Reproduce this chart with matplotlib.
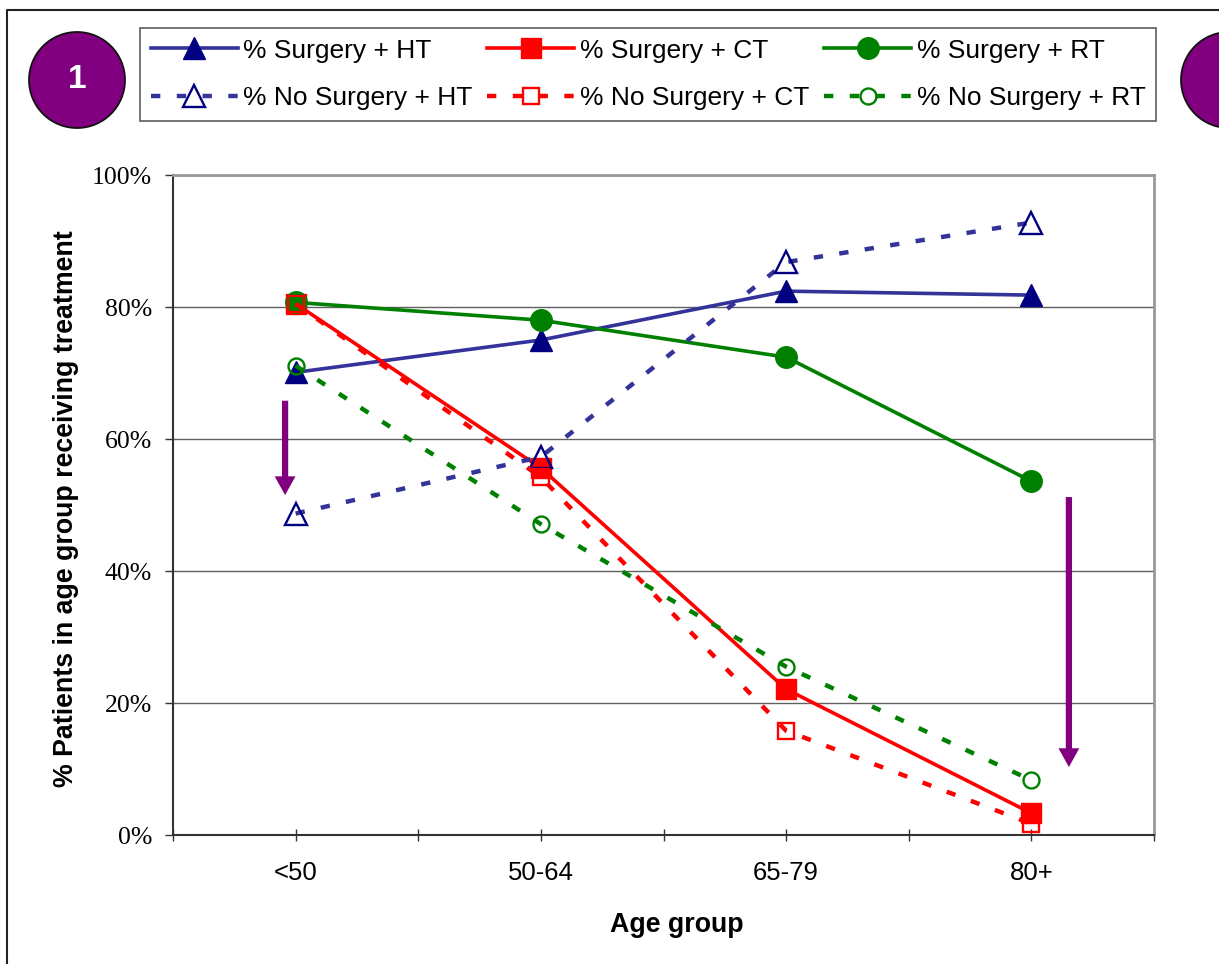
import matplotlib
matplotlib.use('Agg')
import matplotlib.pyplot as plt
from matplotlib.patches import Ellipse
from matplotlib.lines import Line2D

# ---------------- data ----------------
categories = ['<50', '50-64', '65-79', '80+']
surgery_ht = [70.1, 75.0, 82.4, 81.8]
surgery_ct = [80.5, 55.6, 22.1, 3.3]
surgery_rt = [80.7, 78.0, 72.4, 53.6]
nosurgery_ht = [48.7, 57.3, 86.8, 92.8]
nosurgery_ct = [80.5, 54.2, 15.8, 1.7]
nosurgery_rt = [71.1, 47.1, 25.5, 8.3]
yticks = [0, 20, 40, 60, 80, 100]
ytick_labels = ['0%', '20%', '40%', '60%', '80%', '100%']
series_labels = ['% Surgery + HT', '% Surgery + CT', '% Surgery + RT',
                 '% No Surgery + HT', '% No Surgery + CT', '% No Surgery + RT']

W, H = 1219, 964
SANS = ['Liberation Sans', 'DejaVu Sans']
SERIF = ['Liberation Serif', 'DejaVu Serif']
plt.rcParams['font.family'] = SANS

fig = plt.figure(figsize=(W / 100, H / 100), dpi=100)
ax = fig.add_axes([173 / W, 1 - 835 / H, 981 / W, 660 / H])

x = list(range(len(categories)))
NAVY_LINE = '#333399'
NAVY = '#000080'
RED = '#FF0000'
GREEN = '#008000'
PURPLE = '#800080'

lw_solid = 2.6
lw_dash = 3.2
dash = (2.1, 3.7)

h1, = ax.plot(x, surgery_ht, color=NAVY_LINE, lw=lw_solid, marker='^', ms=15.5,
              mfc=NAVY, mec=NAVY, zorder=3, label=series_labels[0])
h2, = ax.plot(x, surgery_ct, color=RED, lw=lw_solid, marker='s', ms=14.5,
              mfc=RED, mec=RED, zorder=3, label=series_labels[1])
h3, = ax.plot(x, surgery_rt, color=GREEN, lw=lw_solid, marker='o', ms=15.5,
              mfc=GREEN, mec=GREEN, zorder=3, label=series_labels[2])
h4, = ax.plot(x, nosurgery_ht, color=NAVY_LINE, lw=lw_dash, dashes=dash, marker='^', ms=15.5,
              mfc='none', mec=NAVY, mew=1.7, zorder=3, label=series_labels[3])
h5, = ax.plot(x, nosurgery_ct, color=RED, lw=lw_dash, dashes=dash, marker='s', ms=11.5,
              mfc='none', mec=RED, mew=1.7, zorder=3, label=series_labels[4])
h6, = ax.plot(x, nosurgery_rt, color=GREEN, lw=lw_dash, dashes=dash, marker='o', ms=11.5,
              mfc='none', mec=GREEN, mew=1.7, zorder=3, label=series_labels[5])

ax.set_xlim(-0.5, len(categories) - 0.5)
ax.set_ylim(0, 100)

# y axis
ax.set_yticks(yticks)
ax.set_yticklabels(ytick_labels, fontfamily=SERIF, fontsize=18.5)
ax.tick_params(axis='y', direction='out', length=6, width=1, color='#333333', pad=9)

# x axis: ticks at every half category, labels only at categories
xt = [i * 0.5 - 0.5 for i in range(2 * len(categories) + 1)]
xl = []
for v in xt:
    if abs(v - round(v)) < 1e-9 and 0 <= round(v) < len(categories):
        xl.append(categories[int(round(v))])
    else:
        xl.append('')
ax.set_xticks(xt)
ax.set_xticklabels(xl, fontsize=18.5)
ax.tick_params(axis='x', direction='inout', length=9, width=1, color='#333333', pad=14)

ax.yaxis.grid(True, color='#606060', lw=1)
ax.set_axisbelow(True)
for s in ['left', 'bottom']:
    ax.spines[s].set_color('#333333')
    ax.spines[s].set_linewidth(1.5)
for s in ['top', 'right']:
    ax.spines[s].set_color('#999999')
    ax.spines[s].set_linewidth(2)

fig.text(66 / W, 1 - 509 / H, '% Patients in age group receiving treatment', rotation=90,
         ha='center', va='center', fontsize=19.3, fontweight='bold')
fig.text(677 / W, 1 - 925 / H, 'Age group', ha='center', va='center',
         fontsize=19.3, fontweight='bold')

# purple arrows
arrow_style = 'simple,head_length=13.5,head_width=15,tail_width=4.5'
ax.annotate('', xy=(-0.043, 51.5), xytext=(-0.043, 65.8),
            arrowprops=dict(arrowstyle=arrow_style, color=PURPLE, lw=0,
                            shrinkA=0, shrinkB=0, mutation_scale=1), zorder=4)
ax.annotate('', xy=(3.153, 10.3), xytext=(3.153, 51.2),
            arrowprops=dict(arrowstyle=arrow_style, color=PURPLE, lw=0,
                            shrinkA=0, shrinkB=0, mutation_scale=1), zorder=4)

# outer frame lines
fig.add_artist(Line2D([7 / W, 7 / W, 1.0], [0, 1 - 10 / H, 1 - 10 / H],
                      transform=fig.transFigure, color='#222222', lw=1.5))

# purple circles
for cx in [77, 1229]:
    fig.add_artist(Ellipse((cx / W, 1 - 80 / H), 96 / W, 96 / H, transform=fig.transFigure,
                           facecolor=PURPLE, edgecolor='#111111', lw=1.3))
fig.text(77 / W, 1 - 80 / H, '1', ha='center', va='center', color='white',
         fontsize=24, fontweight='bold')

# legend (column-major order for matplotlib)
leg = fig.legend([h1, h4, h2, h5, h3, h6],
                 [series_labels[0], series_labels[3], series_labels[1],
                  series_labels[4], series_labels[2], series_labels[5]],
                 ncol=3, loc='upper left', bbox_to_anchor=(140 / W, 1 - 28 / H),
                 fontsize=19, frameon=True, fancybox=False, shadow=False,
                 handlelength=3.3, handletextpad=0.22, columnspacing=0.55,
                 labelspacing=0.9, borderpad=0.4, borderaxespad=0, numpoints=1)
leg.get_frame().set_edgecolor('#333333')
leg.get_frame().set_linewidth(1.2)

fig.savefig('out.png', dpi=100)
